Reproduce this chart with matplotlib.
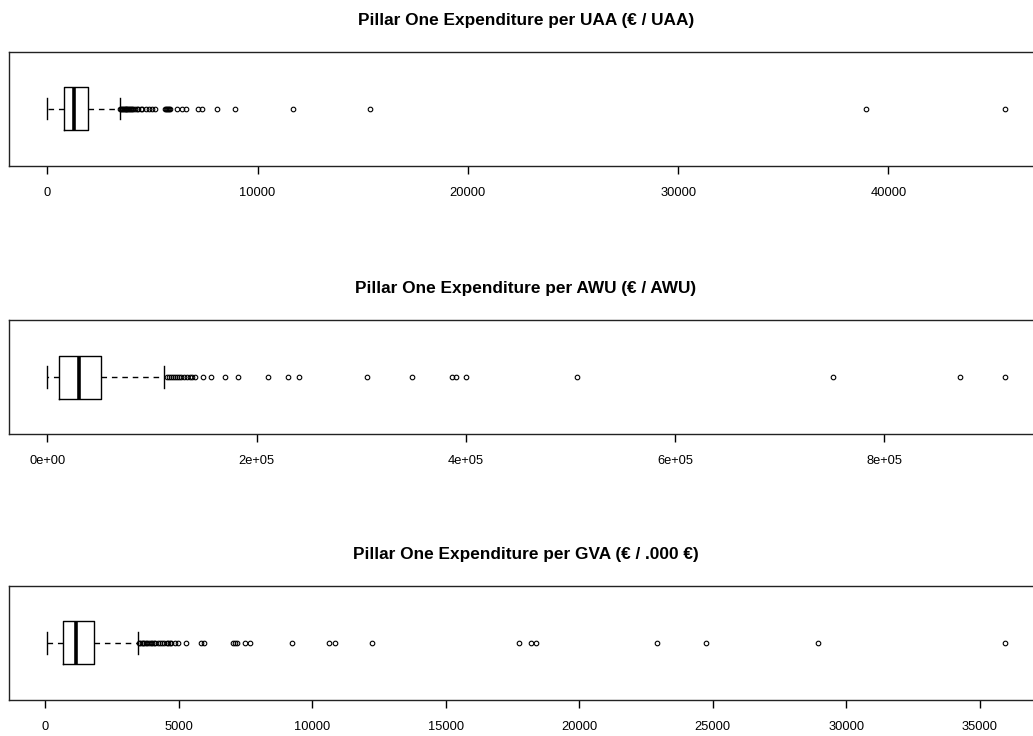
import numpy as np
import matplotlib
matplotlib.use('Agg')
import matplotlib.pyplot as plt

plt.rcParams['font.family'] = ['Liberation Sans', 'DejaVu Sans']

titles = ["Pillar One Expenditure per UAA (\u20ac / UAA)",
          "Pillar One Expenditure per AWU (\u20ac / AWU)",
          "Pillar One Expenditure per GVA (\u20ac / .000 \u20ac)"]

# five number summaries: whisker low, q1, median, q3, whisker high
uaa_stats = [0, 775, 1283, 1915, 3435]
awu_stats = [0, 10800, 30400, 51200, 112000]
gva_stats = [70, 670, 1130, 1820, 3460]

uaa_out = [3480, 3520, 3560, 3600, 3640, 3680, 3720, 3760, 3800, 3850, 3900,
           3950, 4000, 4050, 4090, 4180, 4260, 4300, 4450, 4500, 4690, 4850,
           4970, 5100, 5600, 5650, 5700, 5750, 5800, 5850, 6190, 6400, 6600,
           7160, 7360, 8060, 8930, 11700, 15340, 38950, 45530]
awu_out = [114000, 116000, 118000, 120000, 122000, 124000, 126000, 128000,
           131000, 134000, 136000, 138000, 141000, 148700, 156300, 169500,
           182000, 211000, 230000, 240500, 305500, 349000, 386800, 390500,
           400000, 506600, 750800, 872800, 915200]
gva_out = [3520, 3560, 3600, 3650, 3700, 3760, 3820, 3880, 3940, 4000, 4060,
           4120, 4200, 4280, 4360, 4450, 4550, 4600, 4650, 4700, 4860, 4980,
           5270, 5830, 5950, 7040, 7100, 7160, 7480, 7670, 9230, 10640, 10860,
           12250, 17730, 18200, 18380, 22920, 24760, 28940, 35940]

uaa_ticks = [0, 10000, 20000, 30000, 40000]
awu_ticks = [0, 200000, 400000, 600000, 800000]
awu_labels = ["0e+00", "2e+05", "4e+05", "6e+05", "8e+05"]
gva_ticks = [0, 5000, 10000, 15000, 20000, 25000, 30000, 35000]

panels = [(uaa_stats, uaa_out, uaa_ticks, None),
          (awu_stats, awu_out, awu_ticks, awu_labels),
          (gva_stats, gva_out, gva_ticks, None)]

fig = plt.figure(figsize=(10.33, 7.36), dpi=100)
bottoms = [0.7745, 0.4099, 0.0489]

for i, (st, out, ticks, labs) in enumerate(panels):
    ax = fig.add_axes([0.0087, bottoms[i], 1.001, 0.1555])
    s = dict(whislo=st[0], q1=st[1], med=st[2], q3=st[3], whishi=st[4], fliers=out)
    ax.bxp([s], positions=[1], widths=0.375, vert=False, showfliers=True,
           boxprops=dict(color='black', lw=1.0),
           medianprops=dict(color='black', lw=2.6, solid_capstyle='butt'),
           whiskerprops=dict(color='black', lw=1.0, linestyle=(0, (4, 3.5))),
           capprops=dict(color='black', lw=1.0),
           flierprops=dict(marker='o', markersize=3.3, markerfacecolor='none',
                           markeredgecolor='black', markeredgewidth=0.8))
    lo = min(st[0], min(out))
    hi = max(st[4], max(out))
    ext = 0.04 * (hi - lo)
    ax.set_xlim(lo - ext, hi + ext)
    ax.set_ylim(0.5, 1.5)
    ax.set_yticks([])
    ax.set_xticks(ticks)
    if labs is not None:
        ax.set_xticklabels(labs)
    ax.tick_params(axis='x', length=5.5, width=1.0, pad=9.5, labelsize=9.3)
    for sp in ax.spines.values():
        sp.set_linewidth(1.0)
        sp.set_color('#222222')
    ax.set_title(titles[i], fontsize=12.4, fontweight='bold', pad=19)

fig.savefig('out.png', dpi=100)
